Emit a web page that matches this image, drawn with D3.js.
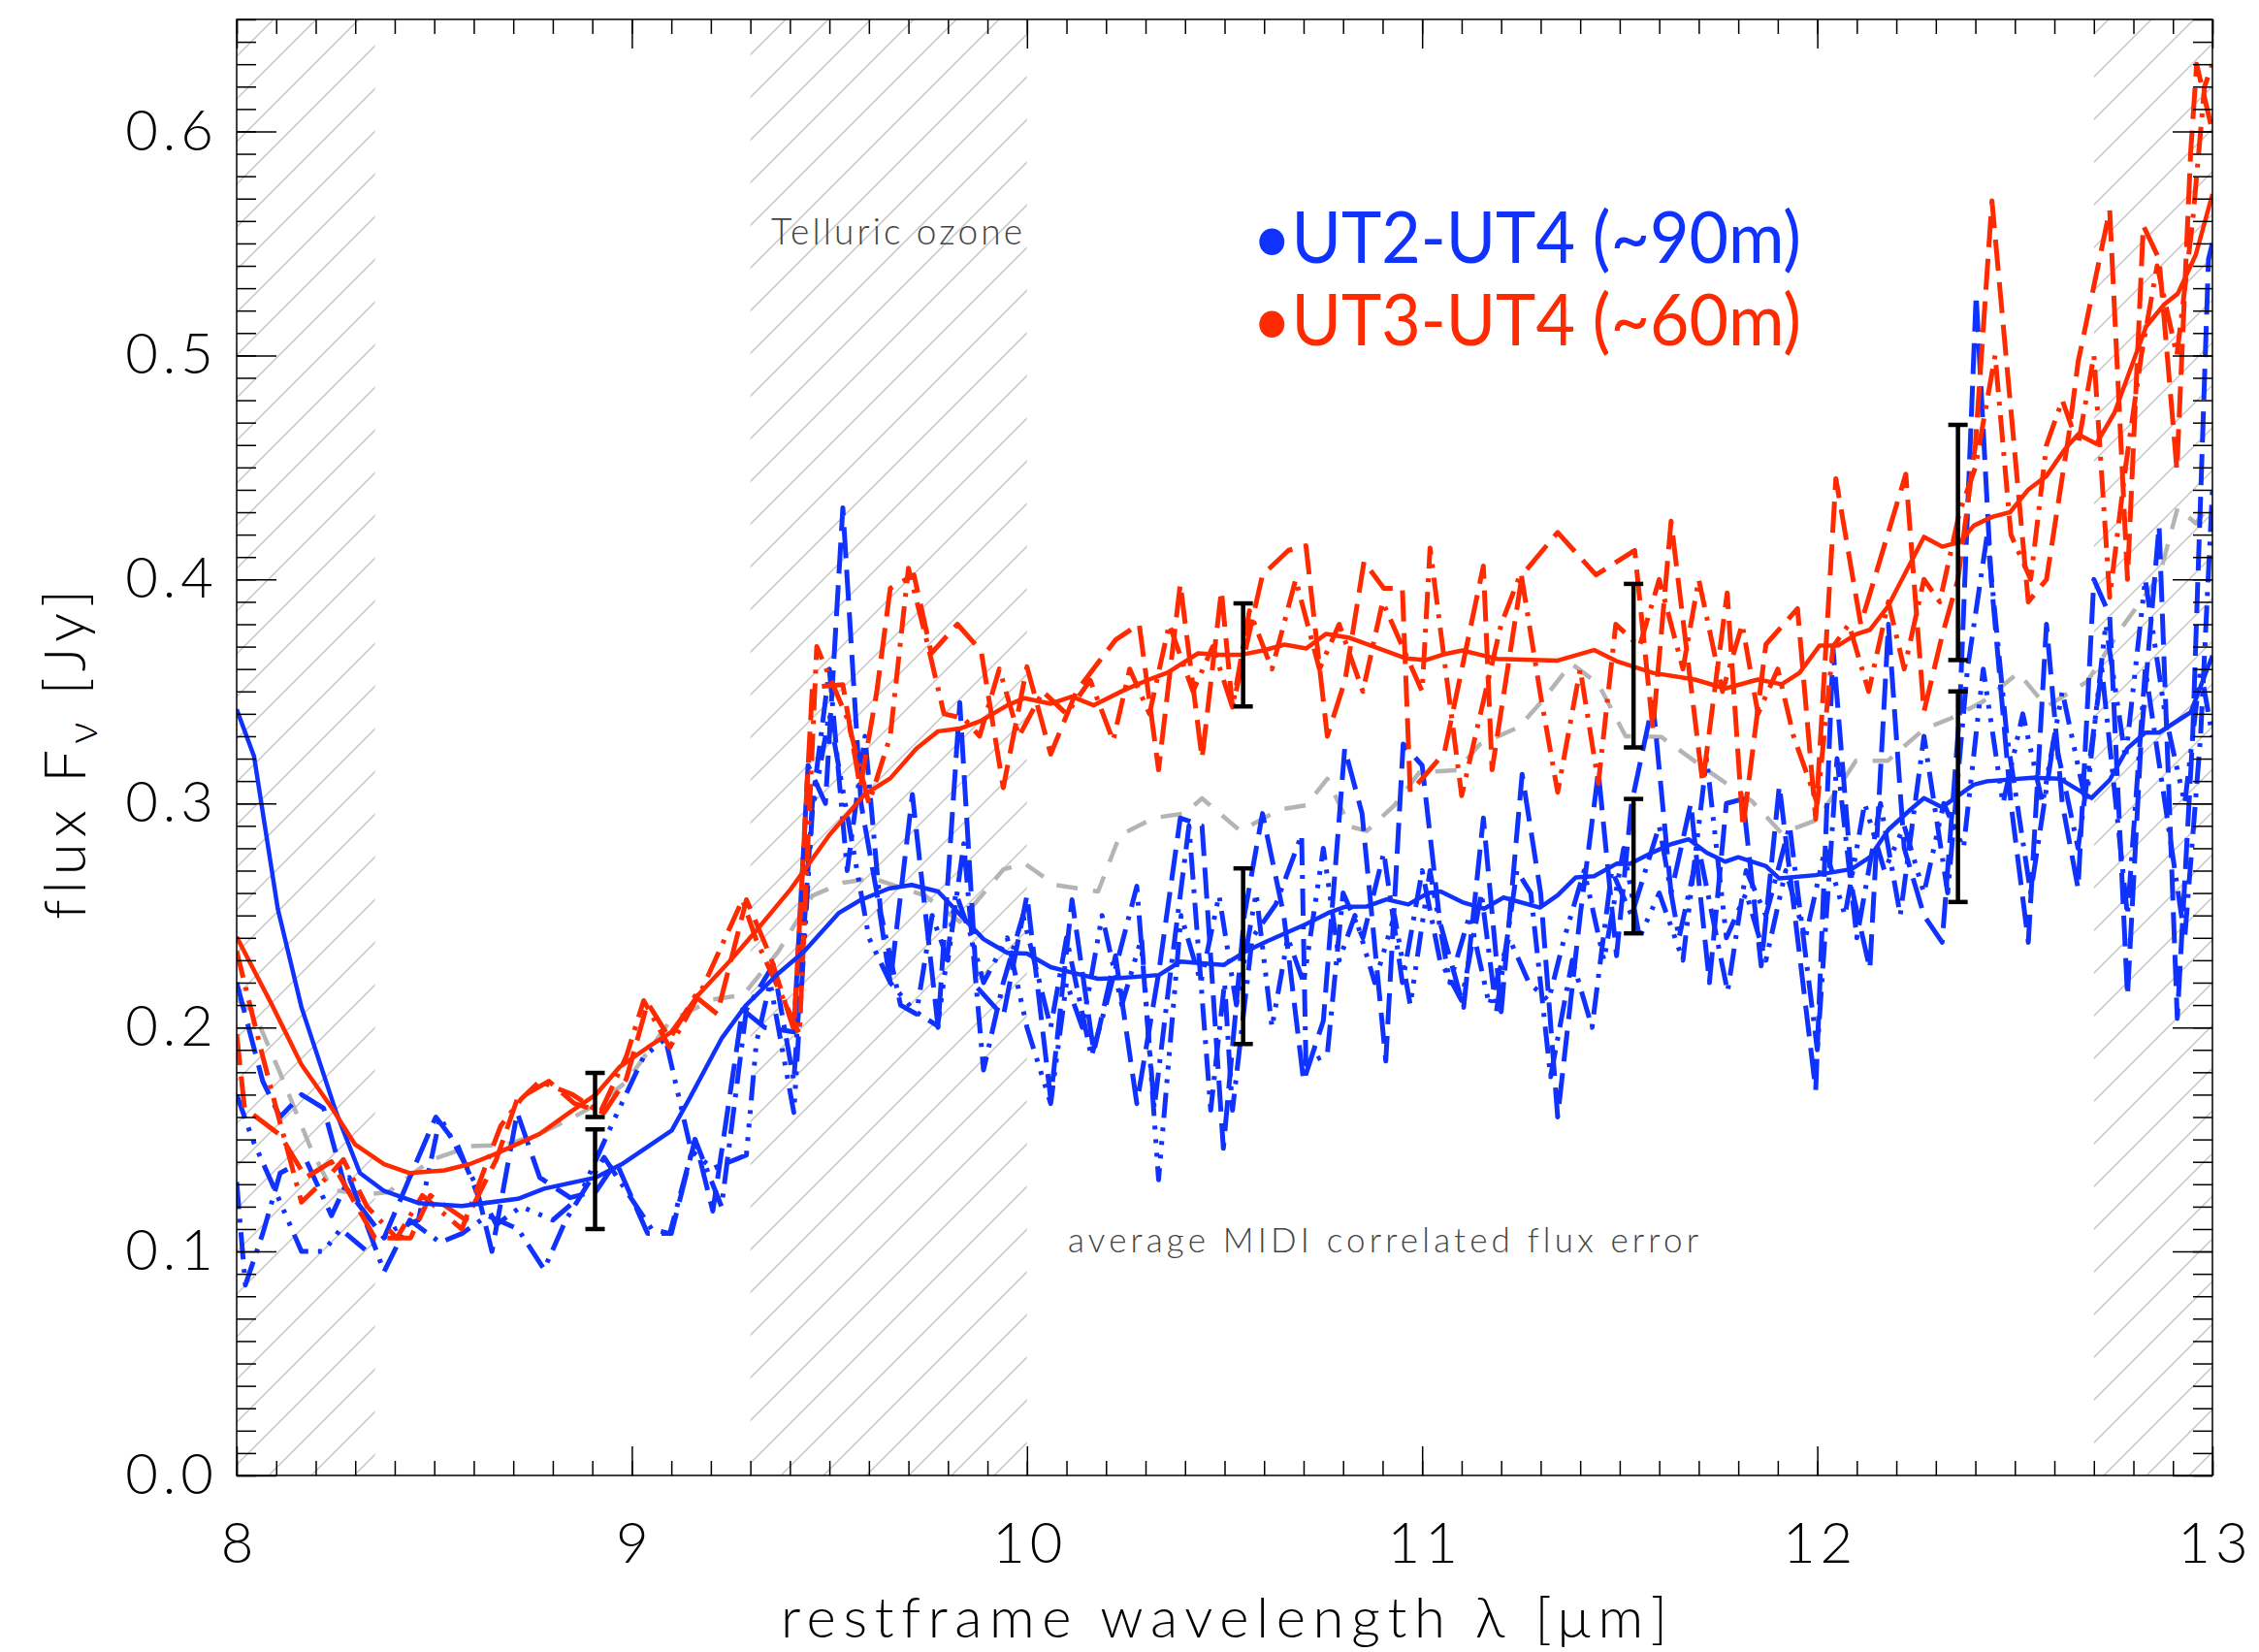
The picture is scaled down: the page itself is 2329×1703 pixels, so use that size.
<!DOCTYPE html>
<html><head><meta charset="utf-8">
<script src="https://cdn.jsdelivr.net/npm/d3@7"></script>
<style>
html,body{margin:0;padding:0;background:#fff;}
svg{display:block;}
text{font-variant-ligatures:none;}
</style></head>
<body>
<script>
// ---------- DATA ----------
const xTicks = [8, 9, 10, 11, 12, 13];
const yTicks = [0.0, 0.1, 0.2, 0.3, 0.4, 0.5, 0.6];
const hatchRegions = [[8.0, 8.35], [9.3, 10.0], [12.7, 13.0]];

const blueSolidX = [8.0,8.044,8.104,8.164,8.252,8.312,8.373,8.46,8.57,8.712,8.778,8.909,8.975,9.101,9.145,9.227,9.287,9.37,9.435,9.523,9.578,9.65,9.708,9.775,9.89,9.95,10.0,10.06,10.114,10.18,10.235,10.334,10.388,10.498,10.553,10.608,10.707,10.762,10.806,10.86,10.91,10.965,11.014,11.047,11.102,11.157,11.206,11.298,11.343,11.389,11.435,11.492,11.526,11.584,11.63,11.675,11.72,11.767,11.8,11.87,11.904,11.996,12.087,12.133,12.18,12.236,12.27,12.316,12.356,12.396,12.43,12.545,12.614,12.694,12.74,12.785,12.83,12.865,12.945,13.0];
const blueSolidY = [0.342,0.321,0.253,0.209,0.162,0.135,0.127,0.1216,0.1203,0.1235,0.128,0.133,0.139,0.154,0.168,0.195,0.2095,0.224,0.2337,0.251,0.2568,0.262,0.2636,0.2607,0.2394,0.2333,0.233,0.2269,0.2245,0.2217,0.222,0.2234,0.2294,0.2279,0.2339,0.2385,0.2462,0.2511,0.2539,0.254,0.2572,0.2549,0.2599,0.2607,0.2559,0.253,0.258,0.2535,0.259,0.267,0.2675,0.2731,0.273,0.2782,0.2818,0.284,0.278,0.274,0.276,0.272,0.2665,0.268,0.2707,0.276,0.2883,0.2973,0.3024,0.2983,0.3034,0.3084,0.3099,0.3115,0.311,0.3024,0.3105,0.3246,0.3316,0.3316,0.3407,0.366];

const redSolidX = [8.0,8.088,8.164,8.241,8.30,8.373,8.438,8.526,8.59,8.657,8.767,8.844,8.909,8.97,9.041,9.10,9.167,9.249,9.315,9.402,9.50,9.589,9.654,9.72,9.775,9.83,9.885,9.95,9.994,10.06,10.114,10.169,10.246,10.31,10.356,10.433,10.488,10.543,10.598,10.652,10.707,10.757,10.817,10.905,10.96,11.01,11.058,11.102,11.19,11.343,11.435,11.492,11.584,11.69,11.767,11.85,11.91,11.955,12.006,12.053,12.098,12.133,12.178,12.27,12.316,12.362,12.396,12.442,12.488,12.534,12.58,12.626,12.66,12.706,12.752,12.832,12.878,12.912,12.958,13.0];
const redSolidY = [0.2404,0.2105,0.1834,0.164,0.1477,0.139,0.135,0.1362,0.139,0.1437,0.1525,0.1622,0.170,0.1825,0.1912,0.198,0.2143,0.2298,0.2433,0.2617,0.2859,0.304,0.3112,0.3245,0.3322,0.3334,0.337,0.3438,0.347,0.3445,0.3477,0.3438,0.3506,0.3554,0.3584,0.367,0.3664,0.3664,0.3683,0.3709,0.3692,0.3757,0.3739,0.3683,0.3647,0.364,0.3667,0.3683,0.3645,0.3638,0.3685,0.3635,0.3583,0.3553,0.3513,0.3553,0.3532,0.3583,0.3705,0.3705,0.3755,0.3775,0.3877,0.419,0.4146,0.4168,0.424,0.4279,0.430,0.4401,0.4462,0.458,0.4648,0.4605,0.4744,0.5128,0.5228,0.5275,0.545,0.572];

const grayX = [8.0,8.044,8.11,8.186,8.241,8.33,8.383,8.493,8.592,8.68,8.767,8.855,8.92,8.986,9.096,9.205,9.282,9.37,9.457,9.534,9.61,9.742,9.83,9.94,9.994,10.071,10.18,10.235,10.323,10.4,10.443,10.54,10.64,10.707,10.76,10.817,10.86,10.93,10.993,11.09,11.146,11.244,11.30,11.378,11.446,11.515,11.605,11.72,11.835,11.91,12.0,12.098,12.178,12.27,12.338,12.418,12.509,12.58,12.683,12.775,12.866,12.912,12.958,13.0];
const grayY = [0.2126,0.2067,0.1796,0.1467,0.1274,0.1255,0.1264,0.1409,0.147,0.1476,0.1525,0.1602,0.1666,0.1757,0.2027,0.2125,0.2145,0.2337,0.2588,0.2646,0.2666,0.2588,0.2472,0.2705,0.2732,0.2636,0.2607,0.2858,0.2936,0.2955,0.3023,0.2877,0.2973,0.2992,0.311,0.2897,0.2877,0.2992,0.3139,0.3149,0.3264,0.334,0.345,0.3624,0.3533,0.330,0.3297,0.315,0.3009,0.2867,0.2927,0.319,0.319,0.3332,0.338,0.3453,0.3583,0.3432,0.3544,0.3796,0.4017,0.432,0.425,0.435];

const blueDashX = [8.00,8.03,8.066,8.11,8.164,8.22,8.274,8.373,8.438,8.504,8.56,8.613,8.646,8.71,8.767,8.844,8.91,8.96,9.04,9.10,9.16,9.205,9.28,9.336,9.41,9.446,9.49,9.534,9.58,9.62,9.654,9.71,9.775,9.83,9.873,9.94,10.0,10.06,10.114,10.169,10.224,10.278,10.333,10.388,10.443,10.497,10.55,10.596,10.65,10.7,10.75,10.804,10.848,10.908,10.952,11.0,11.045,11.105,11.155,11.2,11.253,11.30,11.343,11.40,11.446,11.492,11.53,11.584,11.63,11.68,11.727,11.77,11.812,11.858,11.904,11.95,11.996,12.04,12.09,12.133,12.18,12.22,12.27,12.316,12.36,12.402,12.44,12.49,12.534,12.58,12.62,12.66,12.70,12.74,12.785,12.82,12.865,12.911,12.95,12.99,13.0];
const blueDashY = [0.220,0.200,0.176,0.160,0.170,0.164,0.129,0.106,0.133,0.160,0.147,0.124,0.100,0.162,0.133,0.124,0.127,0.140,0.108,0.108,0.150,0.118,0.208,0.200,0.198,0.317,0.300,0.432,0.300,0.260,0.220,0.304,0.200,0.345,0.218,0.205,0.259,0.168,0.257,0.189,0.232,0.166,0.224,0.2935,0.290,0.146,0.250,0.2955,0.250,0.176,0.203,0.3245,0.2955,0.185,0.3265,0.317,0.247,0.209,0.2935,0.207,0.313,0.260,0.160,0.250,0.314,0.232,0.300,0.345,0.260,0.300,0.220,0.300,0.302,0.2275,0.308,0.240,0.172,0.369,0.260,0.226,0.380,0.280,0.250,0.238,0.340,0.527,0.400,0.300,0.238,0.380,0.300,0.262,0.400,0.384,0.214,0.330,0.424,0.204,0.330,0.543,0.550];

const blueDashDotX = [8.00,8.022,8.066,8.11,8.175,8.24,8.285,8.373,8.438,8.515,8.57,8.635,8.712,8.778,8.833,8.93,8.986,9.05,9.096,9.16,9.227,9.29,9.358,9.41,9.457,9.50,9.545,9.59,9.63,9.68,9.72,9.76,9.80,9.84,9.89,9.94,9.99,10.06,10.10,10.163,10.20,10.278,10.322,10.36,10.41,10.465,10.50,10.52,10.57,10.63,10.695,10.706,10.76,10.80,10.85,10.903,10.95,11.0,11.045,11.1,11.15,11.188,11.24,11.275,11.325,11.38,11.43,11.48,11.53,11.60,11.65,11.70,11.773,11.82,11.87,11.93,12.0,12.05,12.10,12.16,12.21,12.27,12.33,12.38,12.43,12.48,12.54,12.60,12.66,12.72,12.785,12.83,12.88,12.93,12.97,13.0];
const blueDashDotY = [0.131,0.085,0.108,0.135,0.141,0.116,0.133,0.091,0.114,0.104,0.108,0.116,0.110,0.092,0.114,0.142,0.127,0.110,0.108,0.150,0.120,0.208,0.228,0.176,0.300,0.360,0.270,0.330,0.251,0.210,0.206,0.250,0.230,0.282,0.181,0.220,0.250,0.200,0.240,0.187,0.210,0.263,0.164,0.220,0.290,0.163,0.220,0.163,0.240,0.255,0.286,0.1835,0.188,0.260,0.240,0.278,0.220,0.270,0.230,0.212,0.260,0.207,0.270,0.260,0.178,0.230,0.200,0.270,0.250,0.290,0.240,0.280,0.216,0.270,0.250,0.290,0.190,0.320,0.240,0.300,0.250,0.330,0.260,0.360,0.420,0.330,0.260,0.330,0.280,0.360,0.250,0.360,0.300,0.240,0.330,0.440];

const blueDashDot3X = [8.00,8.04,8.088,8.164,8.22,8.263,8.33,8.40,8.46,8.515,8.59,8.657,8.72,8.80,8.866,8.953,9.03,9.085,9.15,9.205,9.29,9.315,9.35,9.41,9.457,9.50,9.56,9.60,9.654,9.714,9.774,9.82,9.86,9.89,9.95,10.00,10.06,10.10,10.14,10.19,10.24,10.29,10.333,10.39,10.44,10.486,10.53,10.58,10.62,10.66,10.70,10.75,10.79,10.83,10.88,10.93,10.97,11.02,11.07,11.12,11.17,11.22,11.27,11.32,11.36,11.41,11.46,11.51,11.55,11.60,11.66,11.72,11.77,11.82,11.87,11.92,11.97,12.02,12.07,12.12,12.17,12.22,12.27,12.32,12.37,12.42,12.47,12.52,12.57,12.62,12.68,12.73,12.78,12.83,12.88,12.93,12.97,13.0];
const blueDashDot3Y = [0.170,0.150,0.131,0.100,0.100,0.110,0.100,0.110,0.114,0.160,0.135,0.112,0.120,0.114,0.124,0.158,0.187,0.195,0.145,0.137,0.143,0.193,0.220,0.162,0.297,0.340,0.280,0.240,0.220,0.2075,0.2007,0.260,0.240,0.220,0.240,0.200,0.166,0.220,0.200,0.250,0.210,0.240,0.132,0.250,0.220,0.259,0.210,0.260,0.200,0.240,0.220,0.280,0.230,0.250,0.220,0.250,0.210,0.270,0.220,0.250,0.210,0.240,0.220,0.212,0.240,0.270,0.230,0.280,0.240,0.260,0.230,0.320,0.240,0.260,0.230,0.270,0.240,0.280,0.250,0.300,0.270,0.290,0.260,0.300,0.280,0.360,0.300,0.340,0.300,0.350,0.300,0.380,0.320,0.400,0.340,0.300,0.360,0.330];

const redDashX = [8.00,8.02,8.11,8.175,8.24,8.35,8.44,8.49,8.58,8.657,8.71,8.79,8.855,8.93,8.986,9.04,9.096,9.16,9.216,9.29,9.35,9.41,9.457,9.534,9.578,9.62,9.654,9.714,9.758,9.824,9.884,9.94,10.0,10.06,10.125,10.224,10.284,10.333,10.388,10.443,10.492,10.52,10.596,10.662,10.706,10.76,10.805,10.853,10.903,10.95,10.97,11.056,11.155,11.177,11.253,11.343,11.44,11.538,11.584,11.63,11.71,11.772,11.812,11.87,11.95,11.996,12.047,12.11,12.224,12.27,12.316,12.356,12.40,12.442,12.534,12.58,12.636,12.66,12.74,12.785,12.825,12.865,12.91,12.945,12.96,13.0];
const redDashY = [0.197,0.164,0.152,0.133,0.140,0.106,0.106,0.125,0.114,0.141,0.168,0.176,0.166,0.162,0.177,0.211,0.195,0.214,0.206,0.257,0.232,0.199,0.352,0.353,0.307,0.350,0.396,0.402,0.367,0.380,0.368,0.307,0.361,0.322,0.350,0.373,0.380,0.315,0.398,0.320,0.395,0.343,0.402,0.413,0.415,0.330,0.355,0.408,0.396,0.396,0.305,0.3225,0.406,0.315,0.402,0.421,0.402,0.413,0.333,0.426,0.309,0.394,0.289,0.371,0.387,0.293,0.445,0.380,0.447,0.341,0.375,0.400,0.460,0.569,0.390,0.400,0.464,0.497,0.565,0.400,0.558,0.543,0.449,0.591,0.630,0.600];

const redDashDotX = [8.00,8.066,8.10,8.164,8.24,8.27,8.33,8.405,8.47,8.57,8.668,8.72,8.767,8.85,8.92,8.986,9.03,9.096,9.18,9.28,9.315,9.424,9.468,9.545,9.60,9.654,9.70,9.75,9.79,9.84,9.88,9.93,9.98,10.04,10.10,10.16,10.218,10.26,10.31,10.36,10.42,10.47,10.52,10.563,10.62,10.68,10.74,10.79,10.85,10.90,11.0,11.02,11.1,11.2,11.25,11.30,11.343,11.40,11.446,11.49,11.55,11.60,11.66,11.70,11.76,11.81,11.85,11.90,11.94,12.0,12.04,12.08,12.13,12.18,12.22,12.27,12.31,12.36,12.40,12.45,12.49,12.54,12.58,12.62,12.66,12.70,12.74,12.78,12.82,12.86,12.91,12.95,12.98,13.0];
const redDashDotY = [0.234,0.187,0.164,0.122,0.135,0.141,0.120,0.106,0.125,0.110,0.156,0.168,0.176,0.170,0.162,0.187,0.212,0.191,0.218,0.257,0.239,0.197,0.370,0.338,0.300,0.330,0.405,0.370,0.340,0.338,0.330,0.360,0.330,0.350,0.340,0.355,0.328,0.360,0.340,0.380,0.350,0.370,0.343,0.386,0.360,0.400,0.360,0.380,0.350,0.390,0.350,0.414,0.3035,0.380,0.403,0.348,0.305,0.360,0.309,0.380,0.370,0.400,0.360,0.400,0.350,0.380,0.340,0.360,0.330,0.300,0.370,0.380,0.350,0.390,0.360,0.400,0.390,0.430,0.450,0.500,0.420,0.400,0.460,0.480,0.460,0.500,0.392,0.450,0.500,0.540,0.500,0.560,0.620,0.630];

const errX = [8.907, 10.547, 11.535, 12.356];
const redErrLo = [0.160, 0.3433, 0.325, 0.364];
const redErrHi = [0.1797, 0.3893, 0.398, 0.469];
const blueErrLo = [0.110, 0.1926, 0.242, 0.256];
const blueErrHi = [0.1545, 0.271, 0.302, 0.350];

const legendLabels = ["\u2022UT2-UT4 (~90m)", "\u2022UT3-UT4 (~60m)"];

// ---------- LAYOUT ----------
const W = 2329, H = 1703;
const L = 244, R = 2281, T = 20, B = 1521;
const BLUE = "#1032ff", RED = "#ff2a00", GRAY = "#b4b4b4";
const FONT = "Lato, 'DejaVu Sans', sans-serif";

const x = d3.scaleLinear().domain([8, 13]).range([L, R]);
const y = d3.scaleLinear().domain([0, 0.65]).range([B, T]);

const svg = d3.select("body").append("svg").attr("width", W).attr("height", H);

const defs = svg.append("defs");
defs.append("clipPath").attr("id", "plotclip").append("rect")
  .attr("x", L).attr("y", T).attr("width", R - L).attr("height", B - T);

// hatched regions
hatchRegions.forEach((r, i) => {
  const x0 = x(r[0]), x1 = x(r[1]);
  defs.append("clipPath").attr("id", "hclip" + i).append("rect")
    .attr("x", x0).attr("y", T).attr("width", x1 - x0).attr("height", B - T);
  const g = svg.append("g").attr("clip-path", `url(#hclip${i})`);
  const step = 44, phase = 38;
  const cMin = x0 + T, cMax = x1 + B;
  const lines = [];
  for (let c = Math.floor((cMin - phase) / step) * step + phase; c <= cMax + step; c += step) lines.push(c);
  g.selectAll("line").data(lines).join("line")
    .attr("x1", c => x0 - 5).attr("y1", c => c - (x0 - 5))
    .attr("x2", c => x1 + 5).attr("y2", c => c - (x1 + 5))
    .attr("stroke", "#c4c4c4").attr("stroke-width", 1.4);
});

// texts inside plot
svg.append("text").attr("x", 795).attr("y", 252)
  .attr("font-family", FONT).attr("font-weight", 300).attr("font-size", 37)
  .attr("fill", "#444").attr("textLength", 259).attr("lengthAdjust", "spacing")
  .text("Telluric ozone");
svg.append("text").attr("x", 1101).attr("y", 1291)
  .attr("font-family", FONT).attr("font-weight", 300).attr("font-size", 35)
  .attr("fill", "#444").attr("textLength", 650).attr("lengthAdjust", "spacing")
  .text("average MIDI correlated flux error");

// lines
const plot = svg.append("g").attr("clip-path", "url(#plotclip)");
function pts(xs, ys) { return xs.map((v, i) => [v, ys[i]]); }
const line = d3.line().x(d => x(d[0])).y(d => y(d[1]));
function draw(xs, ys, color, dash, w) {
  plot.append("path").datum(pts(xs, ys)).attr("d", line)
    .attr("fill", "none").attr("stroke", color).attr("stroke-width", w)
    .attr("stroke-dasharray", dash || null).attr("stroke-linejoin", "round");
}
draw(grayX, grayY, GRAY, "22,16", 4.5);
draw(blueDashDot3X, blueDashDot3Y, BLUE, "26,10,4,10,4,10,4,10", 5);
draw(blueDashDotX, blueDashDotY, BLUE, "28,10,4,10", 5);
draw(blueDashX, blueDashY, BLUE, "32,12", 5);
draw(redDashDotX, redDashDotY, RED, "28,10,4,10", 5);
draw(redDashX, redDashY, RED, "32,12", 5);
draw(blueSolidX, blueSolidY, BLUE, null, 4.5);
draw(redSolidX, redSolidY, RED, null, 4.5);

// error bars
const eb = svg.append("g").attr("stroke", "#000").attr("stroke-width", 4.5);
function errbars(lo, hi) {
  errX.forEach((xv, i) => {
    const xp = x(xv);
    eb.append("line").attr("x1", xp).attr("x2", xp).attr("y1", y(lo[i])).attr("y2", y(hi[i]));
    [lo[i], hi[i]].forEach(v => eb.append("line").attr("x1", xp - 10).attr("x2", xp + 10).attr("y1", y(v)).attr("y2", y(v)));
  });
}
errbars(redErrLo, redErrHi);
errbars(blueErrLo, blueErrHi);

// axes
const xMinor = d3.range(80, 131).map(v => v / 10);
const yMinor = d3.range(0, 66).map(v => v / 100);
function styleAxis(g) {
  g.select(".domain").remove();
  g.selectAll(".tick line").attr("stroke", "#000").attr("stroke-width", 1.5);
  g.selectAll("text").attr("font-family", FONT).attr("font-weight", 300).attr("font-size", 58)
    .attr("fill", "#000").attr("letter-spacing", 5);
}
svg.append("g").attr("transform", `translate(0,${B})`)
  .call(d3.axisBottom(x).tickValues(xMinor).tickSize(-15).tickFormat("")).call(styleAxis);
svg.append("g").attr("transform", `translate(0,${B})`)
  .call(d3.axisBottom(x).tickValues(xTicks).tickSize(-30).tickPadding(49).tickFormat(d3.format("d"))).call(styleAxis);
svg.append("g").attr("transform", `translate(0,${T})`)
  .call(d3.axisTop(x).tickValues(xMinor).tickSize(-15).tickFormat("")).call(styleAxis);
svg.append("g").attr("transform", `translate(0,${T})`)
  .call(d3.axisTop(x).tickValues(xTicks).tickSize(-30).tickFormat("")).call(styleAxis);
svg.append("g").attr("transform", `translate(${L},0)`)
  .call(d3.axisLeft(y).tickValues(yMinor).tickSize(-20).tickFormat("")).call(styleAxis);
svg.append("g").attr("transform", `translate(${L},0)`)
  .call(d3.axisLeft(y).tickValues(yTicks).tickSize(-41).tickPadding(19).tickFormat(d3.format(".1f"))).call(styleAxis);
svg.append("g").attr("transform", `translate(${R},0)`)
  .call(d3.axisRight(y).tickValues(yMinor).tickSize(-20).tickFormat("")).call(styleAxis);
svg.append("g").attr("transform", `translate(${R},0)`)
  .call(d3.axisRight(y).tickValues(yTicks).tickSize(-41).tickFormat("")).call(styleAxis);
// x labels: centre them (remove trailing letter-spacing effect)
svg.selectAll("g.tick text").filter(function(){ return this.getAttribute("text-anchor") !== "end" && d3.select(this.parentNode.parentNode).attr("text-anchor") === "middle"; })
  .attr("dx", 2.5);

// frame
svg.append("rect").attr("x", L).attr("y", T).attr("width", R - L).attr("height", B - T)
  .attr("fill", "none").attr("stroke", "#000").attr("stroke-width", 1.5);

// axis titles
svg.append("text").attr("x", 805).attr("y", 1688)
  .attr("font-family", FONT).attr("font-weight", 300).attr("font-size", 58)
  .attr("textLength", 914).attr("lengthAdjust", "spacing")
  .text("restframe wavelength \u03bb [\u03bcm]");
const yl = svg.append("text").attr("transform", "translate(88,778) rotate(-90)")
  .attr("text-anchor", "middle").attr("font-family", FONT).attr("font-weight", 300).attr("font-size", 60)
  .attr("textLength", 340).attr("lengthAdjust", "spacing");
yl.append("tspan").text("flux F");
yl.append("tspan").attr("font-size", 44).attr("dy", 12).text("\u03bd");
yl.append("tspan").attr("dy", -12).text(" [Jy]");

// legend
[[BLUE, 271], [RED, 356]].forEach((c, i) => {
  svg.append("text").attr("x", 1291).attr("y", c[1])
    .attr("font-family", FONT).attr("font-size", 73).attr("fill", c[0])
    .attr("textLength", 566).attr("lengthAdjust", "spacingAndGlyphs")
    .text(legendLabels[i]);
});
</script>
</body></html>
